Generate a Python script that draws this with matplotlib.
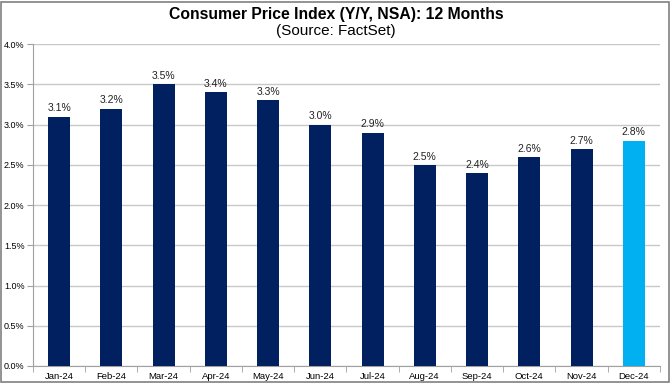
import numpy as np
import matplotlib
matplotlib.use("Agg")
import matplotlib.pyplot as plt
from matplotlib.patches import Rectangle

plt.rcParams['font.family'] = ['Liberation Sans', 'DejaVu Sans']

months = ['Jan-24', 'Feb-24', 'Mar-24', 'Apr-24', 'May-24', 'Jun-24',
          'Jul-24', 'Aug-24', 'Sep-24', 'Oct-24', 'Nov-24', 'Dec-24']
cpi = [3.1, 3.2, 3.5, 3.4, 3.3, 3.0, 2.9, 2.5, 2.4, 2.6, 2.7, 2.8]
bar_colors = ['#002060'] * 11 + ['#00B0F0']

fig = plt.figure(figsize=(6.72, 3.84), dpi=100)
ax = fig.add_axes([0.049, 0.047, 0.933, 0.838])

x = np.arange(len(months))
ax.bar(x, cpi, width=0.42, color=bar_colors, zorder=3)
for xi, v in zip(x, cpi):
    ax.text(xi, v + 0.04, f'{v:.1f}%', ha='center', va='bottom', fontsize=7.5, color='#222222')

ax.set_xlim(-0.5, len(months) - 0.5)
ax.set_ylim(0, 4.0)
yt = np.arange(0, 4.01, 0.5)
ax.set_yticks(yt)
ax.set_yticklabels([f'{t:.1f}%' for t in yt], fontsize=6.5)
ax.yaxis.grid(True, color='#c8c8c8', linewidth=1, zorder=0)

ax.set_xticks(x)
ax.set_xticklabels(months, fontsize=6.8)
ax.tick_params(axis='x', length=0, pad=4)
ax.set_xticks(np.arange(-0.5, len(months)), minor=True)
ax.tick_params(axis='x', which='minor', length=4, color='#a0a0a0')
ax.tick_params(axis='y', length=4, color='#a0a0a0', pad=2)

for s in ['top', 'right']:
    ax.spines[s].set_visible(False)
ax.spines['left'].set_color('#a0a0a0')
ax.spines['bottom'].set_color('#a0a0a0')

fig.text(0.5, 0.962, 'Consumer Price Index (Y/Y, NSA): 12 Months', ha='center', va='center',
         fontsize=11.3, fontweight='bold')
fig.text(0.5, 0.92, '(Source: FactSet)', ha='center', va='center', fontsize=11)

fig.patches.append(Rectangle((0.002, 0.004), 0.994, 0.992, transform=fig.transFigure,
                             fill=False, edgecolor='#808080', linewidth=1.2))

fig.savefig('out.png', dpi=100)
